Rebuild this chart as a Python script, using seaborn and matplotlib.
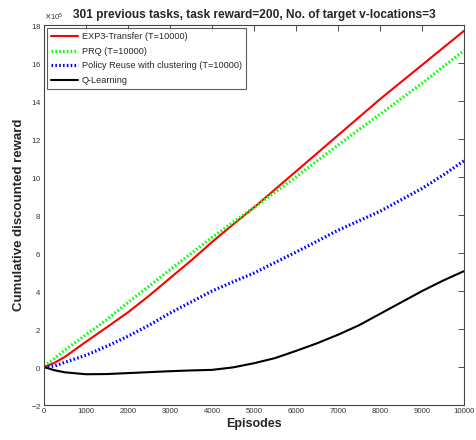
import numpy as np
import pandas as pd
import seaborn as sns
from matplotlib import pyplot as plt

# %% Data (cumulative reward, in units of 1e5)

Episodes = [0, 250, 500, 1000, 1500, 2000, 2500, 3000, 3500, 4000, 4500,
            5000, 5500, 6000, 6500, 7000, 7500, 8000, 8500, 9000, 9500, 10000]

Exp3Transfer = [0, 0.22, 0.54, 1.33, 2.1, 2.88, 3.75, 4.68, 5.6, 6.58, 7.5,
                8.4, 9.35, 10.3, 11.25, 12.2, 13.15, 14.1, 15.0, 15.9, 16.8, 17.7]
PRQ = [0.05, 0.45, 0.9, 1.7, 2.5, 3.4, 4.25, 5.12, 5.97, 6.82, 7.62,
       8.4, 9.2, 10.0, 10.85, 11.68, 12.5, 13.3, 14.12, 14.93, 15.8, 16.65]
PolicyReuse = [0, 0.05, 0.25, 0.62, 1.1, 1.62, 2.2, 2.84, 3.42, 4.0, 4.48,
               4.95, 5.5, 6.05, 6.62, 7.2, 7.7, 8.2, 8.8, 9.4, 10.1, 10.86]
QLearning = [0, -0.17, -0.28, -0.38, -0.37, -0.32, -0.27, -0.22, -0.18, -0.15, -0.02,
             0.2, 0.47, 0.85, 1.25, 1.7, 2.2, 2.8, 3.4, 4.0, 4.55, 5.05]

Labels = ['EXP3-Transfer (T=10000)',
          'PRQ (T=10000)',
          'Policy Reuse with clustering (T=10000)',
          'Q-Learning']
Scale = 1e5

# %% Build long dataframe
dfData = pd.concat([pd.DataFrame({'Episodes': Episodes,
                                  'Reward': np.array(vals) * Scale,
                                  'Method': lab})
                    for lab, vals in zip(Labels, (Exp3Transfer, PRQ, PolicyReuse, QLearning))],
                   ignore_index=True)

LineStyles = {
    'EXP3-Transfer (T=10000)': {'color': '#ff0000', 'linestyle': '-', 'linewidth': 1.5},
    'PRQ (T=10000)': {'color': '#00ff00', 'linestyle': (0, (0.5, 0.7)), 'linewidth': 2.3},
    'Policy Reuse with clustering (T=10000)': {'color': '#0000ff', 'linestyle': (0, (0.5, 0.7)), 'linewidth': 2.3},
    'Q-Learning': {'color': 'black', 'linestyle': '-', 'linewidth': 1.5},
}

sns.set_style('white')
plt.rcParams['font.family'] = ['Liberation Sans', 'DejaVu Sans']

fig = plt.figure(figsize=(4.76, 4.4), dpi=100)
ax = fig.add_axes([0.0924, 0.0795, 0.8826, 0.8636])

for lab in Labels:
    sns.lineplot(data=dfData.query("Method == @lab"),
                 x='Episodes', y='Reward', ax=ax, label=lab,
                 **LineStyles[lab])

ax.set_xlim(0, 10000)
ax.set_ylim(-2 * Scale, 18 * Scale)
ax.set_xticks(np.arange(0, 10001, 1000))
ax.set_yticks(np.arange(-2, 19, 2) * Scale)
ax.ticklabel_format(axis='y', style='sci', scilimits=(5, 5), useMathText=True)
ax.yaxis.get_offset_text().set_fontsize(5.5)
ax.tick_params(direction='in', length=4, width=0.6, labelsize=5.6,
               top=True, right=True, colors='#333333', pad=2)
for sp in ax.spines.values():
    sp.set_color('#444444')
    sp.set_linewidth(0.8)

ax.set_xlabel('Episodes', fontsize=9, fontweight='bold', labelpad=2)
ax.set_ylabel('Cumulative discounted reward', fontsize=9.5, fontweight='bold', labelpad=4)
ax.set_title('301 previous tasks, task reward=200, No. of target v-locations=3',
             fontsize=8.6, fontweight='bold', pad=5)

leg = ax.legend(loc='upper left', fontsize=6.6, handlelength=2.9, frameon=True,
                fancybox=False, borderaxespad=0.3, labelspacing=0.6, borderpad=0.5,
                handletextpad=0.4)
leg.get_frame().set_edgecolor('#333333')
leg.get_frame().set_linewidth(0.8)

fig.savefig('out.png', dpi=100)
